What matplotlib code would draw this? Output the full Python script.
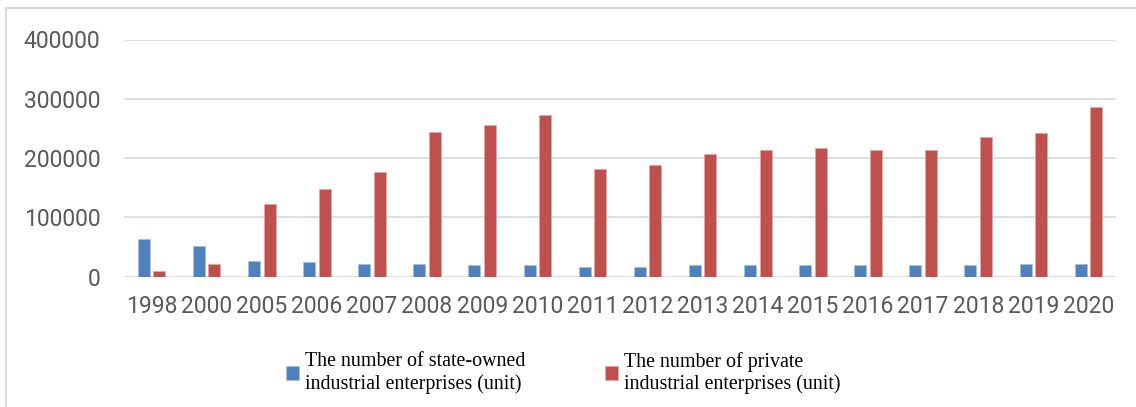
# Grouped bars: state-owned vs private industrial enterprises
import numpy as np
import matplotlib
matplotlib.use("Agg")
import matplotlib.pyplot as plt
import matplotlib.patches as patches

years = ['1998', '2000', '2005', '2006', '2007', '2008', '2009', '2010', '2011',
         '2012', '2013', '2014', '2015', '2016', '2017', '2018', '2019', '2020']
state_owned = [64100, 52300, 26500, 24300, 22000, 22000, 19700, 19700, 16900,
               16900, 19700, 19700, 19700, 19700, 19700, 19700, 22000, 22000]
private = [10000, 22000, 123200, 148500, 176700, 244200, 256600, 272400, 181300,
           188500, 207100, 213900, 216700, 213900, 213900, 235800, 242000, 287000]
y_ticks = [0, 100000, 200000, 300000, 400000]
labels = ['The number of state-owned\nindustrial enterprises (unit)',
          'The number of private\nindustrial enterprises (unit)']

blue = '#4f81bd'
red = '#c0504d'
grid_c = '#d9d9d9'
text_c = '#595959'

fig = plt.figure(figsize=(11.36, 4.07), dpi=100)
ax = fig.add_axes([124 / 1136, 1 - 276.7 / 407, 992 / 1136, 237.2 / 407])

x = np.arange(len(years))
w = 0.218
off = 0.142
ax.bar(x - off, state_owned, w, color=blue, edgecolor='#a7c0de', linewidth=0.5, zorder=3)
ax.bar(x + off, private, w, color=red, edgecolor='#dfa8a6', linewidth=0.5, zorder=3)

ax.set_xlim(-0.5, len(years) - 0.5)
ax.set_ylim(0, 400000)
ax.set_yticks(y_ticks)
ax.set_yticklabels([str(v) for v in y_ticks])
ax.set_xticks(x)
ax.set_xticklabels(years)
ax.yaxis.grid(True, color=grid_c, linewidth=1.2, zorder=0)
ax.set_axisbelow(True)
for s in ax.spines.values():
    s.set_visible(False)
ax.tick_params(axis='both', length=0, colors=text_c, labelsize=16.5)
ax.tick_params(axis='y', pad=17)
ax.tick_params(axis='x', pad=13)
for t in ax.get_xticklabels() + ax.get_yticklabels():
    t.set_fontfamily('Roboto')

# outer chart border (only top and left visible in the crop)
fig.patches.append(patches.Rectangle((6 / 1136, -0.2), 2, 1.2 - 8 / 407, transform=fig.transFigure,
                                     fill=False, edgecolor=grid_c, linewidth=1.5))

h1 = patches.Patch(facecolor=blue, edgecolor='#a7c0de', linewidth=0.5)
h2 = patches.Patch(facecolor=red, edgecolor='#dfa8a6', linewidth=0.5)
fig.legend([h1, h2], labels, loc='center left', bbox_to_anchor=(286 / 1136, 1 - 373 / 407),
           ncol=2, frameon=False, handlelength=0.65, handleheight=0.65, handletextpad=0.3,
           columnspacing=4.0, borderpad=0, borderaxespad=0,
           prop={'family': 'Liberation Serif', 'size': 14.4})

fig.savefig('out.png', dpi=100)
